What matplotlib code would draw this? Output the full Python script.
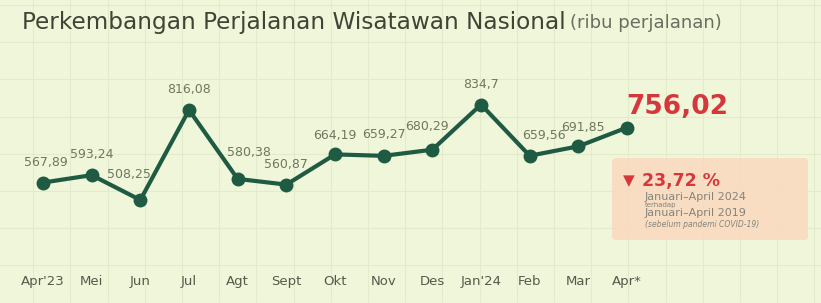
import numpy as np
import matplotlib
matplotlib.use("Agg")
import matplotlib.pyplot as plt
from matplotlib.patches import FancyBboxPatch

# data (ribu perjalanan)
bulan = ["Apr'23", "Mei", "Jun", "Jul", "Agt", "Sept", "Okt", "Nov", "Des", "Jan'24", "Feb", "Mar", "Apr*"]
nilai = [567.89, 593.24, 508.25, 816.08, 580.38, 560.87, 664.19, 659.27, 680.29, 834.7, 659.56, 691.85, 756.02]
label_nilai = ["567,89", "593,24", "508,25", "816,08", "580,38", "560,87", "664,19", "659,27", "680,29", "834,7", "659,56", "691,85", "756,02"]

# offsets of value labels (points)
offset = [(2, 10), (0, 10), (-8, 14), (0, 10), (8, 14), (0, 10), (0, 9), (0, 11), (-4, 12), (0, 10), (10, 10), (3, 9), (0, 0)]

bg = "#eff6d9"
hijau = "#1f5a43"
abu = "#6f775f"
merah = "#d6373b"

fig = plt.figure(figsize=(8.21, 3.03), dpi=100)
fig.patch.set_facecolor(bg)

# background grid (decoration)
bgax = fig.add_axes([0, 0, 1, 1])
bgax.set_xlim(0, 821)
bgax.set_ylim(303, 0)
bgax.axis("off")
for gx in np.arange(-4, 821, 37.2):
    bgax.axvline(gx, color="#e3ecca", lw=0.8, zorder=0)
for gy in np.arange(5, 303, 37.2):
    bgax.axhline(gy, color="#e3ecca", lw=0.8, zorder=0)

ax = fig.add_axes([0, 0, 1, 1])
ax.patch.set_alpha(0)
step = 48.67
ax.set_xlim(-43 / step, (821 - 43) / step)
k = 0.2924
ax.set_ylim(508.25 - 103 / k, 508.25 + 200 / k)
ax.axis("off")

x = np.arange(len(nilai))
ax.plot(x, nilai, color=hijau, lw=3, marker="o", ms=9, zorder=3)

for i in range(len(nilai) - 1):
    ax.annotate(label_nilai[i], (x[i], nilai[i]), xytext=offset[i], textcoords="offset points",
                ha="center", va="bottom", fontsize=9, color=abu)

ax.annotate(label_nilai[-1], (x[-1], nilai[-1]), xytext=(36, 15), textcoords="offset points",
            ha="center", va="center", fontsize=19, color=merah, fontweight="bold")

for i, b in enumerate(bulan):
    ax.text(x[i], 0.07, b, transform=ax.get_xaxis_transform(), ha="center", va="center",
            fontsize=9.5, color="#555a4a")

# title
fig.text(22 / 821, 1 - 22 / 303, "Perkembangan Perjalanan Wisatawan Nasional", fontsize=16.7,
         color="#3f4436", va="center", ha="left")
fig.text(570 / 821, 1 - 23 / 303, "(ribu perjalanan)", fontsize=13, color="#6a6e60", va="center", ha="left")

# info box
box = FancyBboxPatch((612, 158), 196, 82, boxstyle="round,pad=0,rounding_size=4",
                     facecolor="#fbd9c0", edgecolor="none", alpha=0.85, zorder=1)
bgax.add_patch(box)
bgax.text(623, 181, "▼", color=merah, fontsize=11, va="center", ha="left", zorder=2)
bgax.text(642, 181, "23,72 %", color=merah, fontsize=12.5, fontweight="bold", va="center", ha="left", zorder=2)
bgax.text(645, 196.5, "Januari–April 2024", color="#85837a", fontsize=8, va="center", ha="left", zorder=2)
bgax.text(645, 205, "terhadap", color="#85837a", fontsize=5, va="center", ha="left", zorder=2)
bgax.text(645, 213.5, "Januari–April 2019", color="#85837a", fontsize=8, va="center", ha="left", zorder=2)
bgax.text(645, 224.5, "(sebelum pandemi COVID-19)", color="#85837a", fontsize=5.5, style="italic", va="center", ha="left", zorder=2)

fig.savefig("out.png", dpi=100, facecolor=bg)
